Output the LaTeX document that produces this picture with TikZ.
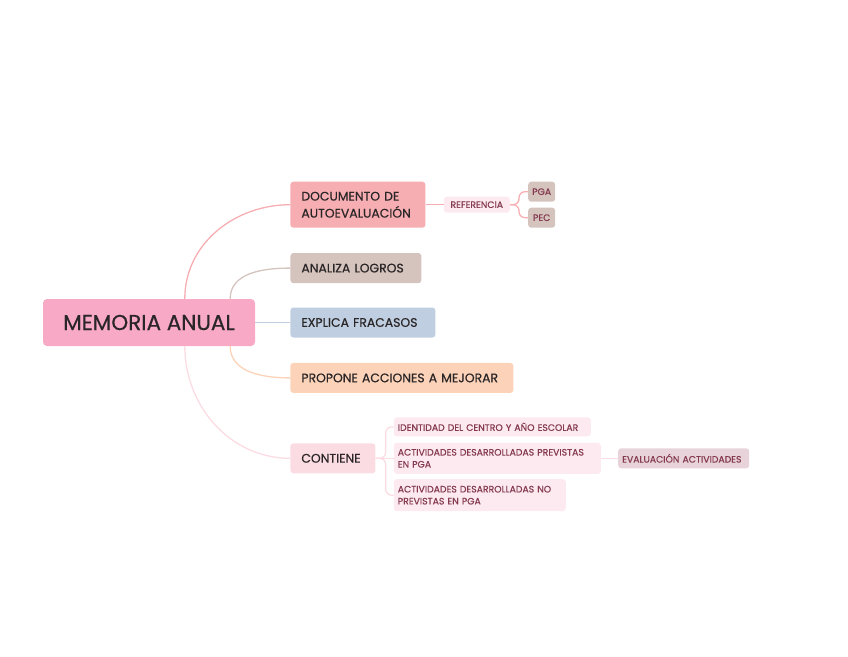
\documentclass[tikz,border=0pt]{standalone}
\usepackage{fontspec}
\setmainfont{Poppins}
\newfontfamily\memfont{Poppins}[FakeBold=0.5]
\usetikzlibrary{positioning,calc}
\definecolor{memInk}{HTML}{2A2526}
\definecolor{memWine}{HTML}{853A50}
\definecolor{memRoot}{HTML}{F8A9C5}
\definecolor{memRose}{HTML}{F6AEB2}
\definecolor{memTaupe}{HTML}{D4C4BD}
\definecolor{memBlue}{HTML}{BFCFE1}
\definecolor{memPeach}{HTML}{FCD3B9}
\definecolor{memBlush}{HTML}{FBDCE3}
\definecolor{memPale}{HTML}{FDEAF0}
\definecolor{memMauve}{HTML}{E8D3DA}

\begin{document}
\begin{tikzpicture}[
  x=1pt, y=-1pt,
  root/.style={fill=memRoot, rounded corners=4pt, minimum width=212pt, minimum height=47pt, align=center, font=\memfont\fontsize{21.5}{24}\selectfont, text=memInk},
  branch/.style={rounded corners=3pt, minimum height=30pt, inner xsep=11pt, align=left, font=\memfont\fontsize{12.4}{17}\selectfont, text=memInk},
  leaf/.style={rounded corners=3pt, inner xsep=4pt, inner ysep=2pt, align=left, font=\memfont\fontsize{9.3}{12}\selectfont, text=memWine},
  link/.style={line width=1.3pt, rounded corners=6pt}
]
  \useasboundingbox (0,0) rectangle (848,656);

  \node[root] (memoria) at (149,322.5) {MEMORIA ANUAL};

  \node[branch, fill=memBlue, text width=123pt, right=35pt of memoria] (explica) {EXPLICA FRACASOS};
  \node[branch, fill=memTaupe, text width=109pt, above=24pt of explica.north west, anchor=south west] (analiza) {ANALIZA LOGROS};
  \node[branch, fill=memRose, text width=113pt, minimum height=46pt, above=25pt of analiza.north west, anchor=south west] (documento) {DOCUMENTO DE\\AUTOEVALUACIÓN};
  \node[branch, fill=memPeach, text width=201pt, below=25pt of explica.south west, anchor=north west] (propone) {PROPONE ACCIONES A MEJORAR};
  \node[branch, fill=memBlush, text width=63pt, below=50pt of propone.south west, anchor=north west] (contiene) {CONTIENE};

  \node[leaf, fill=memPale, minimum width=66pt, minimum height=16pt, inner ysep=1pt, right=18pt of documento] (referencia) {REFERENCIA};
  \node[leaf, fill=memTaupe, minimum width=27pt, minimum height=20pt, inner xsep=3pt, right=18pt of referencia, yshift=13pt] (pga) {PGA};
  \node[leaf, fill=memTaupe, minimum width=27pt, minimum height=20pt, inner xsep=3pt, right=18pt of referencia, yshift=-13pt] (pec) {PEC};

  \node[leaf, fill=memPale, text width=199pt, minimum height=31pt, right=18pt of contiene] (previstas) {ACTIVIDADES DESARROLLADAS PREVISTAS\\EN PGA};
  \node[leaf, fill=memPale, text width=189pt, minimum height=19pt, above=6pt of previstas.north west, anchor=south west] (identidad) {IDENTIDAD DEL CENTRO Y AÑO ESCOLAR};
  \node[leaf, fill=memPale, text width=164pt, minimum height=32pt, below=5pt of previstas.south west, anchor=north west] (noprevistas) {ACTIVIDADES DESARROLLADAS NO\\PREVISTAS EN PGA};
  \node[leaf, fill=memMauve, text width=123pt, minimum height=20pt, right=17pt of previstas] (evaluacion) {EVALUACIÓN ACTIVIDADES};

  % ramas principales
  \draw[link, memRose] ([xshift=142pt]memoria.north west) to[out=90, in=180] (documento.west);
  \draw[link, memTaupe] ([xshift=-25pt]memoria.north east) to[out=90, in=180] (analiza.west);
  \draw[link, memBlue] (memoria.east) -- (explica.west);
  \draw[link, memPeach] ([xshift=-25pt]memoria.south east) to[out=-90, in=180] (propone.west);
  \draw[link, memBlush] ([xshift=142pt]memoria.south west) to[out=-90, in=180] (contiene.west);

  % subramas
  \draw[link, memRose] (documento.east) -- (referencia.west);
  \draw[link, memRose] (referencia.east) -- ++(9pt,0) |- (pga.west);
  \draw[link, memRose] (referencia.east) -- ++(9pt,0) |- (pec.west);
  \draw[link, memBlush] (contiene.east) -- ++(10pt,0) |- (identidad.west);
  \draw[link, memBlush] (contiene.east) -- (previstas.west);
  \draw[link, memBlush] (contiene.east) -- ++(10pt,0) |- (noprevistas.west);
  \draw[link, memBlush] (previstas.east) -- (evaluacion.west);
\end{tikzpicture}
\end{document}
